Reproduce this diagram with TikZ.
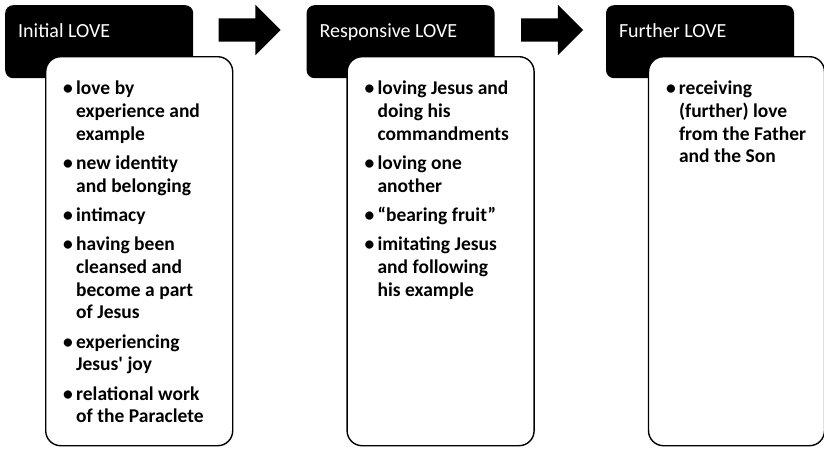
\documentclass[tikz,border=0pt]{standalone}
\usepackage{fontspec}
\setmainfont{Carlito}
\usetikzlibrary{positioning,shapes.arrows}

\tikzset{
  head/.style={fill=black, rounded corners=8pt, minimum width=188pt, minimum height=73pt, inner sep=0pt},
  headtext/.style={text=white, font=\fontsize{20}{24}\selectfont, inner sep=0pt},
  card/.style={draw=black, fill=white, line width=1.4pt, rounded corners=15pt, minimum width=187pt, minimum height=389pt, inner sep=0pt},
  cardtext/.style={font=\fontsize{19.5}{22.9}\selectfont\bfseries, text width=165pt, inner sep=0pt},
  blockarrow/.style={single arrow, fill=black, inner sep=11.5pt, minimum height=62pt, single arrow head extend=13.5pt},
}
% one bullet point, hanging indent for the wrapped lines
\newcommand{\bul}[1]{\spaceskip=0.23em\relax\hangindent=13pt\hangafter=1\noindent\strut\makebox[13pt][l]{•}#1\strut\par\vspace{6.2pt}}

\begin{document}
\begin{tikzpicture}[x=1pt,y=-1pt]
			\useasboundingbox (0,0) rectangle (824,448);
			
			% first column
			\node[head, anchor=north west] (A) at (5,5) {};
			\node[headtext, anchor=base west] (At) at ([shift={(13,32)}]A.north west) {Initial LOVE};
			\node[card, anchor=north west] (a) at ([shift={(40,51)}]A.north west) {};%
			\node[cardtext, anchor=north west] (al) at ([shift={(18,22)}]a.north west) {%
				\bul{love by\newline experience and\newline example}
				\bul{new identity\newline and belonging}
				\bul{intimacy}
				\bul{having been\newline cleansed and\newline become a part\newline of Jesus}
				\bul{experiencing\newline Jesus\textquotesingle\ joy}
				\bul{relational work\newline of the Paraclete}};
			\node[blockarrow, anchor=west] (r1) at ([shift={(25,25)}]A.north east) {};
			
			% second column
			\node[head, right=113pt of A] (B) {};
			\node[headtext, anchor=base west] (Bt) at ([shift={(13,32)}]B.north west) {Responsive LOVE};
			\node[card, anchor=north west] (b) at ([shift={(40,51)}]B.north west) {};%
			\node[cardtext, anchor=north west] (bl) at ([shift={(18,22)}]b.north west) {%
				\bul{loving Jesus and\newline doing his\newline commandments}
				\bul{loving one\newline another}
				\bul{“bearing fruit”}
				\bul{imitating Jesus\newline and following\newline his example}};
			\node[blockarrow, anchor=west] (r2) at ([shift={(26,25)}]B.north east) {};
			
			% third column
			\node[head, right=111pt of B] (C) {};
			\node[headtext, anchor=base west] (Ct) at ([shift={(13,32)}]C.north west) {Further LOVE};
			\node[card, minimum width=176pt, anchor=north west] (c) at ([shift={(42,51)}]C.north west) {};%
			\node[cardtext, anchor=north west] (cl) at ([shift={(18,22)}]c.north west) {%
				\bul{receiving\newline (further) love\newline from the Father\newline and the Son}};
			
\end{tikzpicture}
\end{document}
